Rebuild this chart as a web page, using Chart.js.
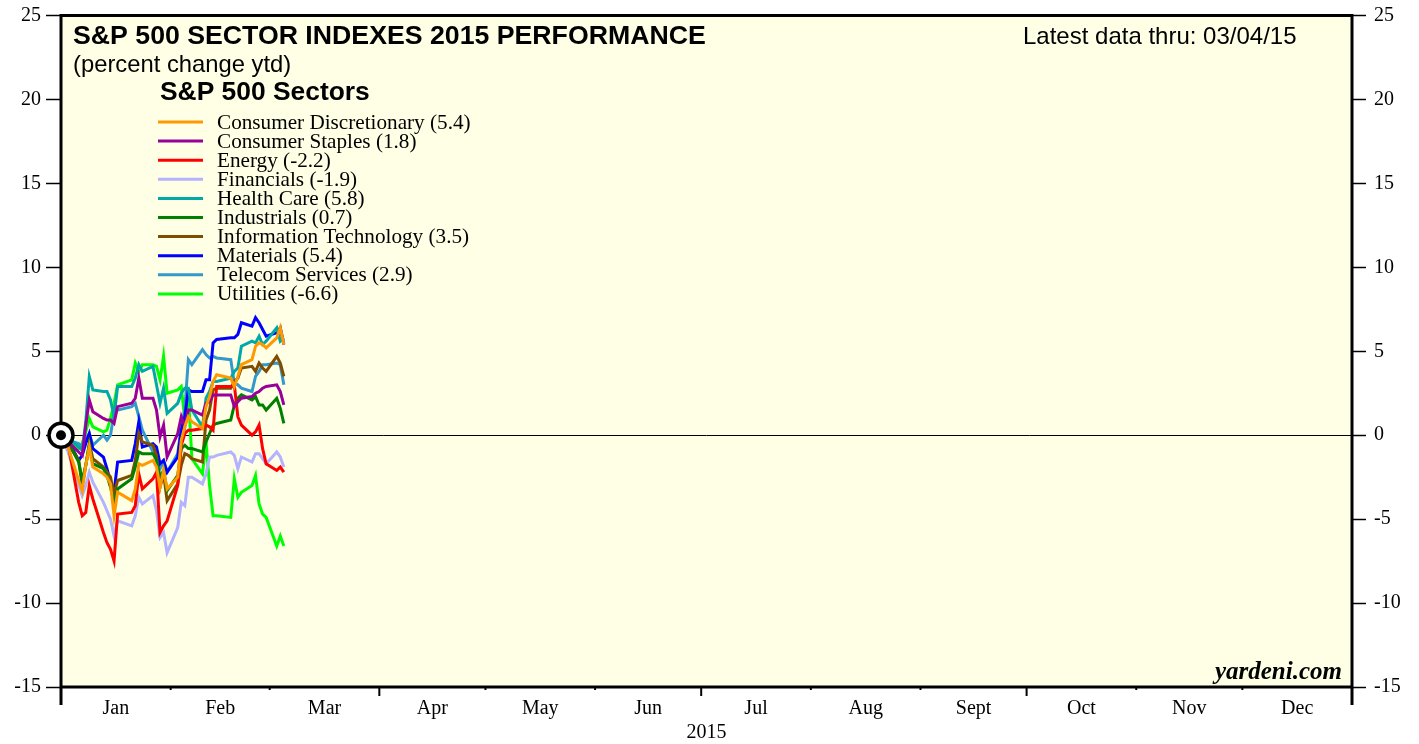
<!DOCTYPE html>
<html>
<head>
<meta charset="utf-8">
<title>S&amp;P 500 Sector Indexes 2015 Performance</title>
<script src="https://cdn.jsdelivr.net/npm/chart.js@4.4.1/dist/chart.umd.min.js"></script>
<style>
  html, body { margin: 0; padding: 0; background: #fff; }
  #wrap { width: 1419px; height: 744px; }
</style>
</head>
<body>
<div id="wrap"><canvas id="sectorChart" width="1419" height="744"></canvas></div>
<script>
// x values are day offsets in 2015 (0 = Dec 31, 2014), trading days only
const tradeDays = [0, 2, 5, 6, 7, 8, 9, 12, 13, 14, 15, 16, 20, 21, 22, 23, 26, 27, 28, 29, 30,
  33, 34, 35, 36, 37, 40, 41, 42, 43, 44, 48, 49, 50, 51, 54, 55, 56, 57, 58, 61, 62, 63];

const sectorNames = [
  'Consumer Discretionary (5.4)', 'Consumer Staples (1.8)', 'Energy (-2.2)', 'Financials (-1.9)',
  'Health Care (5.8)', 'Industrials (0.7)', 'Information Technology (3.5)', 'Materials (5.4)',
  'Telecom Services (2.9)', 'Utilities (-6.6)'
];
const sectorColors = ['#ff9900', '#990099', '#ff0000', '#b3b3ff', '#00a8a8',
  '#008000', '#804c00', '#0000ff', '#3399cc', '#00ff00'];

// percent change ytd
const consDisc = [0, -0.7, -2.7, -3.3, -1.8, -0.7, -1.9, -2.3, -2.5, -2.9, -4.8, -3.4, -3.9, -3.2, -1.7, -1.8, -1.5, -1.9, -3.1, -2.1, -3.2,
  -2.5, -0.3, 0.5, 1.1, 0.8, 0.4, 1.7, 2.3, 3.2, 3.6, 3.4, 2.9, 3.5, 4.2, 4.5, 5.3, 5.5, 5.4, 5.2, 5.8, 6.4, 5.4];
const consStaples = [0, -0.4, -1.0, -1.2, 0.6, 2.1, 1.4, 1.0, 0.9, 0.9, 0.7, 1.7, 1.9, 2.2, 3.4, 2.2, 2.2, 1.5, -0.1, 0.6, -1.3,
  0.1, 1.1, 0.5, 1.5, 1.5, 1.2, 1.9, 2.0, 2.4, 2.4, 2.4, 1.7, 2.0, 2.2, 2.3, 2.5, 2.6, 2.8, 2.9, 3.0, 2.6, 1.8];
const energy = [0, -0.5, -4.0, -4.8, -4.6, -3.0, -3.8, -5.8, -6.4, -6.8, -7.5, -4.7, -4.6, -4.2, -2.3, -3.2, -2.6, -2.2, -5.8, -5.4, -5.1,
  -3.0, -0.6, 0.1, 0.3, 0.3, 0.4, 0.6, 0.5, 0.3, 2.9, 2.9, 3.0, 1.1, 0.6, 0.0, 0.2, 0.6, -0.8, -1.7, -2.1, -1.9, -2.2];
const financials = [0, -1.0, -3.0, -3.6, -3.0, -2.2, -2.8, -4.0, -4.5, -5.0, -6.0, -5.1, -5.4, -4.8, -3.7, -4.1, -3.6, -4.5, -6.1, -5.8, -7.0,
  -5.5, -4.0, -4.2, -2.5, -2.5, -2.9, -2.3, -1.3, -1.3, -1.2, -1.0, -1.2, -2.0, -1.3, -1.6, -1.1, -1.1, -1.4, -1.7, -1.0, -1.3, -1.9];
const healthCare = [0, -0.2, -0.7, -0.9, 0.8, 3.5, 2.7, 2.6, 2.6, 2.1, 1.1, 2.9, 2.9, 3.4, 4.2, 3.8, 4.1, 3.0, 1.9, 2.8, 1.3,
  1.9, 2.5, 2.8, 2.8, 1.5, 0.5, 2.2, 2.6, 3.2, 3.2, 3.4, 3.8, 4.0, 5.3, 5.6, 5.5, 5.9, 5.4, 5.6, 6.4, 5.6, 5.8];
const industrials = [0, -0.4, -1.6, -2.7, -1.8, -0.6, -1.7, -2.0, -2.4, -3.1, -4.0, -3.2, -2.6, -1.9, -1.0, -1.1, -1.1, -1.5, -2.5, -2.1, -3.3,
  -2.4, -0.8, -0.6, -0.8, -0.8, -1.0, -0.4, 0.1, 0.6, 0.7, 0.9, 1.8, 2.2, 2.4, 2.1, 2.3, 1.8, 1.8, 1.5, 2.2, 1.6, 0.7];
const infoTech = [0, -0.5, -1.5, -3.0, -1.8, -0.5, -1.4, -1.9, -2.2, -2.5, -3.5, -2.7, -2.4, -1.5, 0.1, -0.4, -0.6, -1.2, -3.1, -2.3, -3.9,
  -2.9, -1.8, -1.1, -1.2, -1.4, -1.6, 0.9, 1.5, 2.7, 2.8, 2.8, 3.2, 3.4, 4.0, 4.1, 3.8, 4.3, 4.0, 3.8, 4.7, 4.3, 3.5];
const materials = [0, -0.3, -1.5, -1.2, -0.5, 0.1, -0.8, -1.3, -2.0, -2.8, -3.4, -1.6, -1.5, -0.5, 0.8, -0.7, -0.5, -0.7, -1.7, -1.5, -2.2,
  -1.3, 0.3, 1.1, 2.7, 2.6, 2.6, 3.3, 3.3, 5.5, 5.7, 5.8, 5.8, 6.0, 6.7, 6.5, 7.0, 6.7, 6.3, 5.9, 6.1, 6.4, 5.4];
const telecom = [0, -0.3, -0.5, -0.7, -0.2, 0.1, -0.6, 0.0, -0.3, 0.0, 1.3, 1.5, 1.7, 1.9, 1.1, 0.3, -1.0, -1.3, -2.0, -1.6, -2.2,
  -1.1, 0.5, 1.5, 4.5, 4.2, 5.1, 4.8, 4.6, 4.7, 4.6, 4.5, 3.1, 3.0, 2.8, 2.6, 3.5, 3.8, 4.2, 4.2, 4.3, 4.2, 3.0];
const utilities = [0, -0.3, -0.8, -0.5, 0.2, 1.0, 0.5, 0.2, 0.3, 1.0, 1.9, 3.0, 3.3, 4.3, 3.8, 4.2, 4.2, 4.1, 3.3, 4.7, 2.5,
  2.7, 2.9, 0.9, 2.5, -1.4, -2.3, -0.4, -3.0, -4.8, -4.8, -4.9, -2.6, -3.7, -3.4, -3.0, -2.4, -4.1, -4.7, -4.9, -6.6, -6.0, -6.6];

const sectorSeries = [consDisc, consStaples, energy, financials, healthCare,
  industrials, infoTech, materials, telecom, utilities];

const monthNames = ['Jan', 'Feb', 'Mar', 'Apr', 'May', 'Jun', 'Jul', 'Aug', 'Sept', 'Oct', 'Nov', 'Dec'];
const monthStarts = [0, 31, 59, 90, 120, 151, 181, 212, 243, 273, 304, 334, 365];

const SERIF = "'Liberation Serif', 'Times New Roman', serif";
const SANS = "'Liberation Sans', Arial, Helvetica, sans-serif";

// size a font so the text fills a given width
function fitFont(ctx, text, style, family, width) {
  ctx.font = style + ' 100px ' + family;
  const w = ctx.measureText(text).width;
  return style + ' ' + (100 * width / w).toFixed(1) + 'px ' + family;
}

const decorPlugin = {
  id: 'decor',
  beforeDraw(chart) {
    const { ctx, chartArea: a } = chart;
    ctx.save();
    ctx.fillStyle = '#ffffe6';
    ctx.fillRect(a.left, a.top, a.right - a.left, a.bottom - a.top);
    ctx.restore();
  },
  beforeDatasetsDraw(chart) {
    const { ctx, chartArea: a, scales } = chart;
    ctx.save();
    ctx.strokeStyle = '#000';
    ctx.lineWidth = 3;
    ctx.strokeRect(a.left, a.top, a.right - a.left, a.bottom - a.top);

    // month ticks under the plot
    monthStarts.forEach((d, i) => {
      const px = scales.x.getPixelForValue(d);
      let len = 3;
      if (i === 0 || i === 12) len = 18;
      else if (i % 3 === 0) len = 9;
      ctx.lineWidth = (i === 0 || i === 12) ? 3 : 2;
      ctx.beginPath();
      ctx.moveTo(px, a.bottom);
      ctx.lineTo(px, a.bottom + len);
      ctx.stroke();
    });
    ctx.restore();
  },
  afterDraw(chart) {
    const { ctx, chartArea: a, scales } = chart;
    ctx.save();
    ctx.fillStyle = '#000';

    // month labels + year
    ctx.font = '20px ' + SERIF;
    ctx.textAlign = 'center';
    ctx.textBaseline = 'middle';
    monthNames.forEach((m, i) => {
      const mid = (monthStarts[i] + monthStarts[i + 1]) / 2;
      ctx.fillText(m, scales.x.getPixelForValue(mid), 709);
    });
    ctx.fillText('2015', scales.x.getPixelForValue(182.5), 733);

    // titles
    ctx.textAlign = 'left';
    ctx.font = fitFont(ctx, 'S&P 500 SECTOR INDEXES 2015 PERFORMANCE', 'bold', SANS, 632);
    ctx.fillText('S&P 500 SECTOR INDEXES 2015 PERFORMANCE', 73, 37);
    ctx.font = fitFont(ctx, '(percent change ytd)', 'normal', SANS, 218);
    ctx.fillText('(percent change ytd)', 73, 65);
    ctx.font = fitFont(ctx, 'Latest data thru: 03/04/15', 'normal', SANS, 273);
    ctx.fillText('Latest data thru: 03/04/15', 1023, 37);
    ctx.font = fitFont(ctx, 'S&P 500 Sectors', 'bold', SANS, 210);
    ctx.fillText('S&P 500 Sectors', 160, 93);

    // legend
    ctx.font = fitFont(ctx, sectorNames[0], 'normal', SERIF, 254);
    sectorNames.forEach((name, i) => {
      const y = 122 + i * 19.1;
      ctx.strokeStyle = sectorColors[i];
      ctx.lineWidth = 3;
      ctx.beginPath();
      ctx.moveTo(158, y);
      ctx.lineTo(203, y);
      ctx.stroke();
      ctx.fillText(name, 217, y + 1);
    });

    // source
    ctx.textAlign = 'right';
    ctx.font = fitFont(ctx, 'yardeni.com', 'italic bold', SERIF, 127);
    ctx.fillText('yardeni.com', a.right - 10, 673);
    ctx.restore();
  }
};

const sectorDatasets = sectorSeries.map((vals, i) => ({
  label: sectorNames[i],
  data: vals.map((v, j) => ({ x: tradeDays[j], y: v })),
  borderColor: sectorColors[i],
  backgroundColor: sectorColors[i],
  borderWidth: 3,
  pointRadius: 0,
  tension: 0,
  fill: false
}));

// start-of-year marker (ring + dot)
const markerDatasets = [
  { label: 'dot', data: [{ x: 0, y: 0 }], showLine: false, pointRadius: 5, pointBorderWidth: 0,
    pointBackgroundColor: '#000', clip: false, order: -2 },
  { label: 'ring', data: [{ x: 0, y: 0 }], showLine: false, pointRadius: 12, pointBorderWidth: 3.5,
    pointBorderColor: '#000', pointBackgroundColor: '#fff', clip: false, order: -1 }
];

const yTickStyle = {
  stepSize: 5,
  color: '#000',
  font: { family: SERIF, size: 20 }
};

// keep the tick labels from pushing the plot edges inward
function fixYAxis(width) {
  return (scale) => {
    scale.width = width;
    scale.paddingTop = 0;
    scale.paddingBottom = 0;
  };
}

new Chart(document.getElementById('sectorChart').getContext('2d'), {
  type: 'line',
  data: { datasets: markerDatasets.concat(sectorDatasets) },
  options: {
    responsive: false,
    animation: false,
    events: [],
    layout: { padding: { top: 15, left: 0, right: 0, bottom: 0 } },
    plugins: {
      legend: { display: false },
      tooltip: { enabled: false }
    },
    scales: {
      x: {
        type: 'linear',
        min: 0,
        max: 365,
        ticks: { display: false },
        grid: { display: false },
        border: { display: false },
        afterFit: (scale) => { scale.height = 57; }
      },
      y: {
        position: 'left',
        min: -15,
        max: 25,
        ticks: Object.assign({ padding: 5 }, yTickStyle),
        grid: {
          drawOnChartArea: true,
          color: (c) => (c.tick && c.tick.value === 0 ? '#000' : 'rgba(0,0,0,0)'),
          lineWidth: 1,
          tickColor: '#000',
          tickLength: 15,
          tickWidth: 1.5
        },
        border: { display: false },
        afterFit: fixYAxis(61)
      },
      y2: {
        position: 'right',
        min: -15,
        max: 25,
        ticks: Object.assign({ padding: 8 }, yTickStyle),
        grid: {
          drawOnChartArea: false,
          tickColor: '#000',
          tickLength: 14,
          tickWidth: 1.5
        },
        border: { display: false },
        afterFit: fixYAxis(67)
      }
    }
  },
  plugins: [decorPlugin]
});
</script>
</body>
</html>
